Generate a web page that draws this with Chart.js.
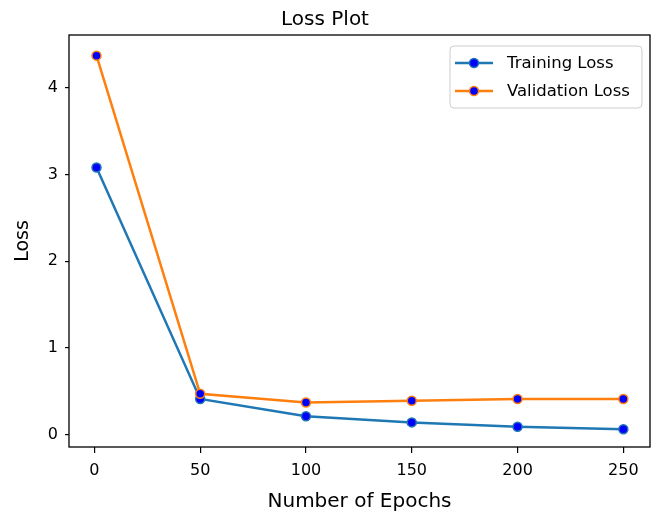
<!DOCTYPE html>
<html>
<head>
<meta charset="utf-8">
<title>Loss Plot</title>
<script src="https://cdn.jsdelivr.net/npm/chart.js@4/dist/chart.umd.min.js"></script>
<style>
  html, body { margin: 0; padding: 0; background: #fff; }
  #lossChart { display: block; }
</style>
</head>
<body>
<canvas id="lossChart" width="656" height="519"></canvas>
<script>
// chart values
const epochs = [1, 50, 100, 150, 200, 250];
const trainingLoss = [3.08, 0.41, 0.21, 0.14, 0.09, 0.06];
const validationLoss = [4.37, 0.47, 0.37, 0.39, 0.41, 0.41];
const xTicks = [0, 50, 100, 150, 200, 250];
const yTicks = [0, 1, 2, 3, 4];
const seriesNames = ['Training Loss', 'Validation Loss'];

const FONT = "'DejaVu Sans', sans-serif";
const blue = '#1f77b4';
const orange = '#ff7f0e';

const toPoints = (ys) => epochs.map((x, i) => ({ x: x, y: ys[i] }));

// box around the plot area + matplotlib style legend
const framePlugin = {
  id: 'frame',
  afterDraw(chart) {
    const { ctx, chartArea } = chart;
    ctx.save();
    ctx.strokeStyle = '#000';
    ctx.lineWidth = 1.3;
    ctx.strokeRect(chartArea.left, chartArea.top, chartArea.right - chartArea.left, chartArea.bottom - chartArea.top);

    // legend
    const w = 192, h = 62;
    const lx = chartArea.right - 8 - w;
    const ly = chartArea.top + 11;
    ctx.beginPath();
    ctx.roundRect(lx, ly, w, h, 4);
    ctx.fillStyle = 'rgba(255,255,255,0.8)';
    ctx.fill();
    ctx.strokeStyle = '#cccccc';
    ctx.lineWidth = 1;
    ctx.stroke();

    ctx.font = '16.5px ' + FONT;
    ctx.textBaseline = 'middle';
    ctx.textAlign = 'left';
    const colors = [blue, orange];
    seriesNames.forEach((name, i) => {
      const y = ly + 17 + i * 28;
      ctx.strokeStyle = colors[i];
      ctx.lineWidth = 2.5;
      ctx.beginPath();
      ctx.moveTo(lx + 5, y);
      ctx.lineTo(lx + 43, y);
      ctx.stroke();
      ctx.beginPath();
      ctx.arc(lx + 24, y, 4.5, 0, Math.PI * 2);
      ctx.fillStyle = '#0000ff';
      ctx.fill();
      ctx.lineWidth = 1.5;
      ctx.stroke();
      ctx.fillStyle = '#000';
      ctx.fillText(name, lx + 57, y + 1);
    });
    ctx.restore();
  }
};

const config = {
  type: 'line',
  data: {
    datasets: [
      {
        label: seriesNames[0],
        data: toPoints(trainingLoss),
        borderColor: blue,
        borderWidth: 2.5,
        pointBackgroundColor: '#0000ff',
        pointBorderColor: blue,
        pointBorderWidth: 1.5,
        pointRadius: 4.5,
        tension: 0,
        order: 1
      },
      {
        label: seriesNames[1],
        data: toPoints(validationLoss),
        borderColor: orange,
        borderWidth: 2.5,
        pointBackgroundColor: '#0000ff',
        pointBorderColor: orange,
        pointBorderWidth: 1.5,
        pointRadius: 4.5,
        tension: 0,
        order: 0
      }
    ]
  },
  options: {
    responsive: false,
    animation: false,
    layout: { padding: { top: 0, right: 6, bottom: 0, left: 0 } },
    plugins: {
      legend: { display: false },
      tooltip: { enabled: false },
      title: {
        display: true,
        text: 'Loss Plot',
        color: '#000',
        font: { family: FONT, size: 20, weight: 'normal' },
        padding: { top: 8, bottom: 3 }
      }
    },
    scales: {
      x: {
        type: 'linear',
        min: -12,
        max: 262.6,
        afterBuildTicks: (scale) => { scale.ticks = xTicks.map(v => ({ value: v })); },
        afterFit: (scale) => { scale.height = 72; },
        border: { display: false },
        grid: { drawOnChartArea: false, drawTicks: true, tickLength: 6, color: '#000', lineWidth: 1.2 },
        ticks: { color: '#000', font: { family: FONT, size: 16 }, padding: 8, maxRotation: 0 },
        title: {
          display: true,
          text: 'Number of Epochs',
          color: '#000',
          font: { family: FONT, size: 20 },
          padding: { top: 0, bottom: 5 }
        }
      },
      y: {
        min: -0.144,
        max: 4.608,
        afterBuildTicks: (scale) => { scale.ticks = yTicks.map(v => ({ value: v })); },
        afterFit: (scale) => { scale.width = 69; },
        border: { display: false },
        grid: { drawOnChartArea: false, drawTicks: true, tickLength: 4, color: '#000', lineWidth: 1.2 },
        ticks: { color: '#000', font: { family: FONT, size: 16 }, padding: 7 },
        title: {
          display: true,
          text: 'Loss',
          color: '#000',
          font: { family: FONT, size: 19 },
          padding: { top: 12, bottom: 0 }
        }
      }
    }
  },
  plugins: [framePlugin]
};

new Chart(document.getElementById('lossChart').getContext('2d'), config);
</script>
</body>
</html>
